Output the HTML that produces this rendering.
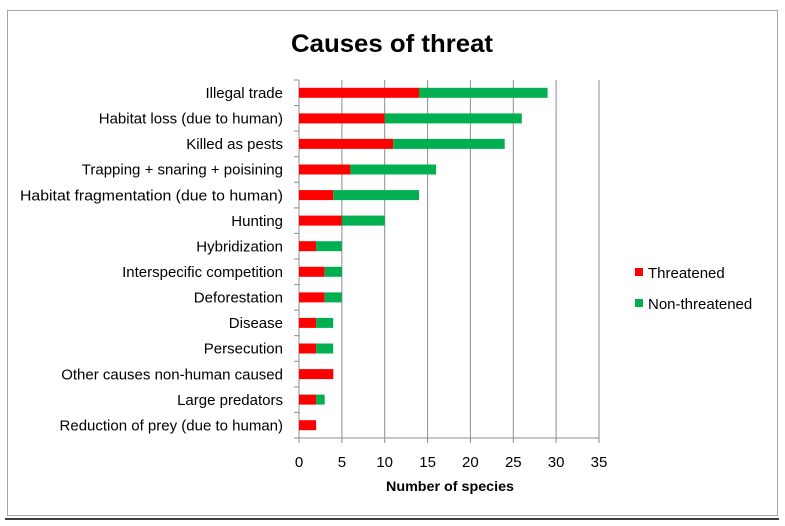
<!DOCTYPE html>
<html><head><meta charset="utf-8"><style>
html,body{margin:0;padding:0;background:#fff;}
svg{display:block;font-family:"Liberation Sans",sans-serif;}
</style></head><body>
<svg width="785" height="526" viewBox="0 0 785 526" xmlns="http://www.w3.org/2000/svg">
<rect x="7.5" y="10.5" width="770" height="505" fill="#fff" stroke="#a6a6a6" stroke-width="1"/>
<line x1="5" y1="519" x2="779" y2="519" stroke="#000" stroke-width="1.5"/>
<text x="392" y="52" font-size="25" font-weight="bold" text-anchor="middle" textLength="202" lengthAdjust="spacingAndGlyphs">Causes of threat</text>
<g stroke="#8c8c8c" stroke-width="1">
<line x1="341.9" y1="80" x2="341.9" y2="438"/>
<line x1="384.7" y1="80" x2="384.7" y2="438"/>
<line x1="427.6" y1="80" x2="427.6" y2="438"/>
<line x1="470.4" y1="80" x2="470.4" y2="438"/>
<line x1="513.3" y1="80" x2="513.3" y2="438"/>
<line x1="556.1" y1="80" x2="556.1" y2="438"/>
<line x1="599" y1="80" x2="599" y2="438"/>
</g>
<g stroke="#8c8c8c" stroke-width="1">
<line x1="299" y1="80" x2="299" y2="438"/>
<line x1="299" y1="438" x2="599" y2="438"/>
<line x1="294" y1="80" x2="299" y2="80"/>
<line x1="294" y1="105.6" x2="299" y2="105.6"/>
<line x1="294" y1="131.1" x2="299" y2="131.1"/>
<line x1="294" y1="156.7" x2="299" y2="156.7"/>
<line x1="294" y1="182.3" x2="299" y2="182.3"/>
<line x1="294" y1="207.9" x2="299" y2="207.9"/>
<line x1="294" y1="233.4" x2="299" y2="233.4"/>
<line x1="294" y1="259" x2="299" y2="259"/>
<line x1="294" y1="284.6" x2="299" y2="284.6"/>
<line x1="294" y1="310.1" x2="299" y2="310.1"/>
<line x1="294" y1="335.7" x2="299" y2="335.7"/>
<line x1="294" y1="361.3" x2="299" y2="361.3"/>
<line x1="294" y1="386.9" x2="299" y2="386.9"/>
<line x1="294" y1="412.4" x2="299" y2="412.4"/>
<line x1="294" y1="438" x2="299" y2="438"/>
<line x1="299" y1="438" x2="299" y2="443"/>
<line x1="341.9" y1="438" x2="341.9" y2="443"/>
<line x1="384.7" y1="438" x2="384.7" y2="443"/>
<line x1="427.6" y1="438" x2="427.6" y2="443"/>
<line x1="470.4" y1="438" x2="470.4" y2="443"/>
<line x1="513.3" y1="438" x2="513.3" y2="443"/>
<line x1="556.1" y1="438" x2="556.1" y2="443"/>
<line x1="599" y1="438" x2="599" y2="443"/>
</g>
<g>
<rect x="299" y="87.8" width="120" height="10" fill="#ff0000"/><rect x="419" y="87.8" width="128.6" height="10" fill="#00b050"/>
<rect x="299" y="113.4" width="85.7" height="10" fill="#ff0000"/><rect x="384.7" y="113.4" width="137.1" height="10" fill="#00b050"/>
<rect x="299" y="138.9" width="94.3" height="10" fill="#ff0000"/><rect x="393.3" y="138.9" width="111.4" height="10" fill="#00b050"/>
<rect x="299" y="164.5" width="51.4" height="10" fill="#ff0000"/><rect x="350.4" y="164.5" width="85.7" height="10" fill="#00b050"/>
<rect x="299" y="190.1" width="34.3" height="10" fill="#ff0000"/><rect x="333.3" y="190.1" width="85.7" height="10" fill="#00b050"/>
<rect x="299" y="215.6" width="42.9" height="10" fill="#ff0000"/><rect x="341.9" y="215.6" width="42.9" height="10" fill="#00b050"/>
<rect x="299" y="241.2" width="17.1" height="10" fill="#ff0000"/><rect x="316.1" y="241.2" width="25.7" height="10" fill="#00b050"/>
<rect x="299" y="266.8" width="25.7" height="10" fill="#ff0000"/><rect x="324.7" y="266.8" width="17.1" height="10" fill="#00b050"/>
<rect x="299" y="292.4" width="25.7" height="10" fill="#ff0000"/><rect x="324.7" y="292.4" width="17.1" height="10" fill="#00b050"/>
<rect x="299" y="317.9" width="17.1" height="10" fill="#ff0000"/><rect x="316.1" y="317.9" width="17.1" height="10" fill="#00b050"/>
<rect x="299" y="343.5" width="17.1" height="10" fill="#ff0000"/><rect x="316.1" y="343.5" width="17.1" height="10" fill="#00b050"/>
<rect x="299" y="369.1" width="34.3" height="10" fill="#ff0000"/>
<rect x="299" y="394.6" width="17.1" height="10" fill="#ff0000"/><rect x="316.1" y="394.6" width="8.6" height="10" fill="#00b050"/>
<rect x="299" y="420.2" width="17.1" height="10" fill="#ff0000"/>
</g>
<g font-size="15" text-anchor="end" fill="#000">
<text x="283" y="98">Illegal trade</text>
<text x="283" y="123.6">Habitat loss (due to human)</text>
<text x="283" y="149.1">Killed as pests</text>
<text x="283" y="174.7">Trapping + snaring + poisining</text>
<text x="283" y="200.3" textLength="263" lengthAdjust="spacingAndGlyphs">Habitat fragmentation (due to human)</text>
<text x="283" y="225.8">Hunting</text>
<text x="283" y="251.4">Hybridization</text>
<text x="283" y="277">Interspecific competition</text>
<text x="283" y="302.6">Deforestation</text>
<text x="283" y="328.1">Disease</text>
<text x="283" y="353.7">Persecution</text>
<text x="283" y="379.3">Other causes non-human caused</text>
<text x="283" y="404.8">Large predators</text>
<text x="283" y="430.4">Reduction of prey (due to human)</text>
</g>
<g font-size="15" text-anchor="middle">
<text x="299" y="467">0</text><text x="341.9" y="467">5</text><text x="384.7" y="467">10</text><text x="427.6" y="467">15</text><text x="470.4" y="467">20</text><text x="513.3" y="467">25</text><text x="556.1" y="467">30</text><text x="599" y="467">35</text>
</g>
<text x="450" y="491" font-size="14" font-weight="bold" text-anchor="middle" textLength="128" lengthAdjust="spacingAndGlyphs">Number of species</text>
<rect x="635" y="268" width="8" height="8" fill="#ff0000"/>
<text x="648" y="278" font-size="15">Threatened</text>
<rect x="635" y="299" width="8" height="8" fill="#00b050"/>
<text x="648" y="309" font-size="15">Non-threatened</text>
</svg>
</body></html>
